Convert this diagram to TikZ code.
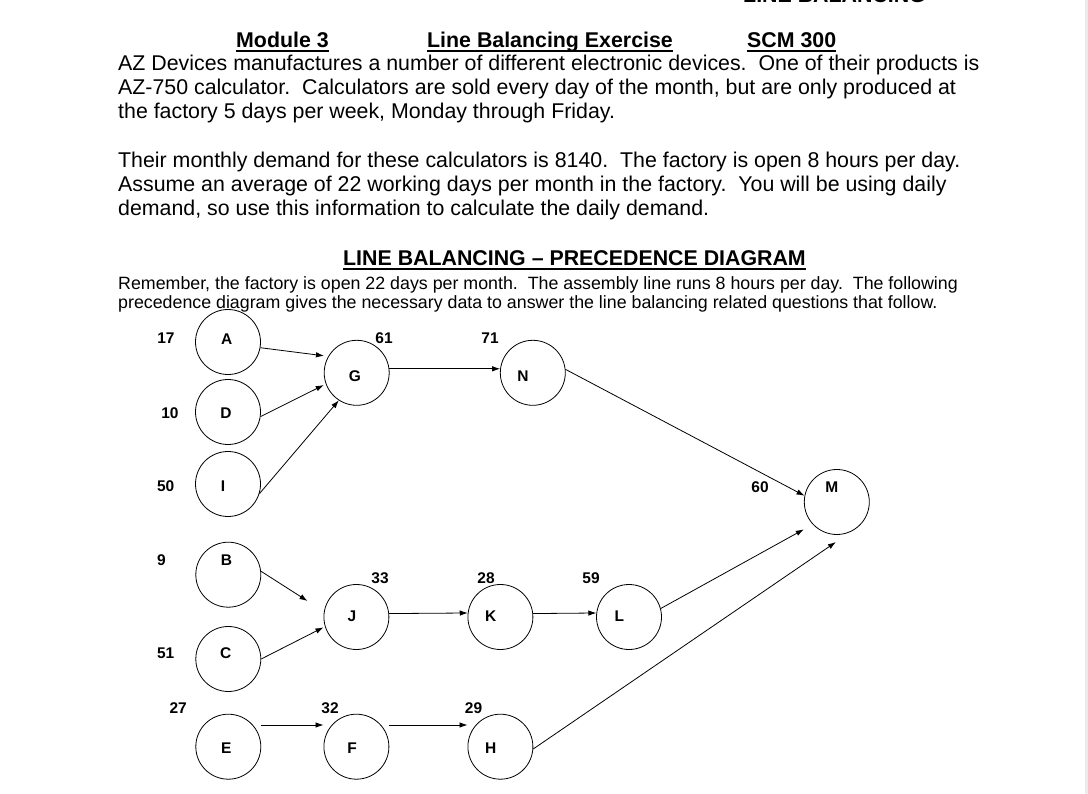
\documentclass[tikz,border=0pt]{standalone}
\usepackage{fontspec}
\setmainfont{Liberation Sans}
\usetikzlibrary{arrows.meta}
\begin{document}
\begin{tikzpicture}[x=1pt,y=-1pt,
  body/.style={anchor=base west, inner sep=0pt, font=\fontsize{21.35}{24}\selectfont},
  hdr/.style={anchor=base west, inner sep=0pt, font=\fontsize{21.35}{24}\selectfont\bfseries},
  note/.style={anchor=base west, inner sep=0pt, font=\fontsize{17.8}{20}\selectfont},
  task/.style={circle, draw, line width=0.8pt, minimum size=65pt, inner sep=0pt},
  lbl/.style={font=\fontsize{15.5}{15.5}\selectfont\bfseries, inner sep=0pt},
  arr/.style={line width=0.8pt, -{Latex[length=8pt,width=5.5pt]}},
  uline/.style={line width=1.4pt}]
\useasboundingbox (0,0) rectangle (1088,794);
\begin{scope}
\clip (0,0) rectangle (1088,794);
\fill[black!8] (1085,0) rectangle (1088,794);
\node[hdr] (top) at (743,3) {LINE BALANCING};
\end{scope}

% header
\node[hdr] (mod) at (236,47.5) {Module 3};
\node[hdr] (lbe) at (427,47.5) {Line Balancing Exercise};
\node[hdr] (scm) at (747,47.5) {SCM 300};
\foreach \n in {mod,lbe,scm}
  \draw[uline] ([yshift=-3.5pt]\n.base west) -- ([yshift=-3.5pt]\n.base east);

% paragraph 1
\node[body] (p1) at (118,71) {AZ Devices manufactures a number of different electronic devices.\ \ One of their products is};
\node[body] (p2) at (118,95) {AZ-750 calculator.\ \ Calculators are sold every day of the month, but are only produced at};
\node[body] (p3) at (118,119) {the factory 5 days per week, Monday through Friday.};
% paragraph 2
\node[body] (p4) at (118,167.5) {Their monthly demand for these calculators is 8140.\ \ The factory is open 8 hours per day.};
\node[body] (p5) at (118,191.7) {Assume an average of 22 working days per month in the factory.\ \ You will be using daily};
\node[body] (p6) at (118,215.9) {demand, so use this information to calculate the daily demand.};

% title
\node[hdr] (ttl) at (343,265.7) {LINE BALANCING -- PRECEDENCE DIAGRAM};
\draw[uline] ([yshift=-3.5pt]ttl.base west) -- ([yshift=-3.5pt]ttl.base east);
\node[note] (r1) at (118,289.5) {Remember, the factory is open 22 days per month.\ \ The assembly line runs 8 hours per day.\ \ The following};
\node[note] (r2) at (118,308.5) {precedence diagram gives the necessary data to answer the line balancing related questions that follow.};

% task circles
\node[task] (A) at (228,342) {};
\node[task] (D) at (228,412) {};
\node[task] (I) at (228,484) {};
\node[task] (G) at (356.7,372.8) {};
\node[task] (N) at (532.8,372.8) {};
\node[task] (B) at (228.3,574.7) {};
\node[task] (C) at (228.3,659) {};
\node[task] (E) at (228.3,746.7) {};
\node[task] (J) at (356.4,617) {};
\node[task] (K) at (500.4,617) {};
\node[task] (L) at (629,617) {};
\node[task] (F) at (356.4,746.7) {};
\node[task] (H) at (500.4,746.7) {};
\node[task] (M) at (836.8,502) {};

% task letters
\node[lbl] (tA) at (226.7,339.3) {A};
\node[lbl] (tD) at (226,412.7) {D};
\node[lbl] (tI) at (223,486) {I};
\node[lbl] (tG) at (355,376) {G};
\node[lbl] (tN) at (523,376) {N};
\node[lbl] (tB) at (226.4,560) {B};
\node[lbl] (tC) at (225.7,653.3) {C};
\node[lbl] (tE) at (226.4,748) {E};
\node[lbl] (tJ) at (352,616) {J};
\node[lbl] (tK) at (490.7,616) {K};
\node[lbl] (tL) at (619.3,616) {L};
\node[lbl] (tF) at (352,748) {F};
\node[lbl] (tH) at (490.7,748) {H};
\node[lbl] (tM) at (831.7,486.7) {M};

% task times
\node[lbl] (nA) at (166,338) {17};
\node[lbl] (nD) at (170,412.7) {10};
\node[lbl] (nI) at (165.7,486) {50};
\node[lbl] (nG) at (384,338) {61};
\node[lbl] (nN) at (490,338) {71};
\node[lbl] (nB) at (161.4,560) {9};
\node[lbl] (nC) at (165.7,653.3) {51};
\node[lbl] (nE) at (178.2,708.3) {27};
\node[lbl] (nJ) at (380,578.3) {33};
\node[lbl] (nK) at (486,578.3) {28};
\node[lbl] (nL) at (591,578.3) {59};
\node[lbl] (nF) at (330,708.3) {32};
\node[lbl] (nH) at (473.6,708.3) {29};
\node[lbl] (nM) at (760,486.7) {60};

% connectors
\coordinate (Bend) at (307.5,601);
\draw[arr, shorten >=4.3pt] (A.-10) -- (G.150);
\draw[arr, shorten >=2.2pt] (D.-8) -- (G.200.7);
\draw[arr] (I.-17) -- (G.237);
\draw[arr] (G.7) -- (N.173);
\draw[arr] (N.6) -- (M.169.5);
\draw[arr] (B.6.4) -- (Bend);
\draw[arr, shorten >=1.7pt] (C.0) -- (J.197.8);
\draw[arr] (J.6.5) -- (K.173.5);
\draw[arr] (K.6.5) -- (L.173.5);
\draw[arr, shorten >=10.2pt] (L.15) -- (M.223.5);
\draw[arr] ([yshift=21.7pt]E.east) -- ([yshift=21.7pt]F.west);
\draw[arr] ([yshift=21.7pt]F.east) -- ([yshift=21.7pt]H.west);
\draw[arr, shorten >=18.6pt] (H.-4) -- (M.-64);
\end{tikzpicture}
\end{document}
